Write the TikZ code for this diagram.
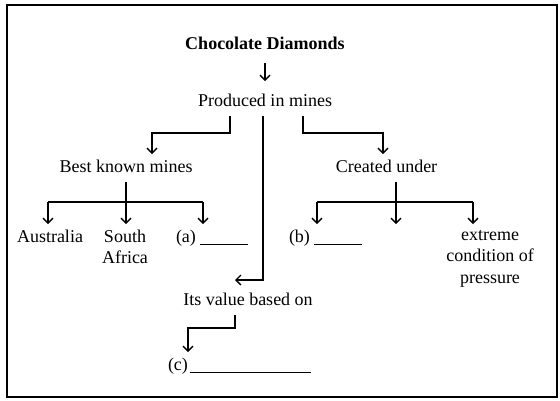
\documentclass[tikz,border=0pt]{standalone}
\usepackage{fontspec}
\setmainfont{Liberation Serif}
\usetikzlibrary{arrows.meta}
\newcommand{\blank}[1]{\rule[-2.5pt]{#1}{0.8pt}}
\tikzset{
	lbl/.style = {inner sep=0pt, outer sep=6pt},
	txt/.style = {lbl, text height=12pt, text depth=4pt, anchor=base},
	arr/.style = {-{Straight Barb[length=5pt, width=10pt]}}}

\begin{document}
\begin{tikzpicture}[x=1pt, y=-1pt, line width=1.3pt, font=\fontsize{18}{21.5}\selectfont]
\useasboundingbox (0,0) rectangle (560,400);
\draw [line width=1.8pt] (7,5) rectangle (557,397);

% NODES
\node (title) [txt] at (265,49) {\bfseries Chocolate Diamonds};
\node (prod) [txt] at (265,106) {Produced in mines};
% mines
\node (best) [txt] at (126,172) {Best known mines};
\node (aus) [txt] at (50,242) {Australia};
\node (saf) [lbl, align=center, anchor=north] at (125,224) {South\\Africa};
\node (bla) [txt, anchor=base west] at (170,242) {(a)\hspace{4pt}\blank{48pt}};
% created under
\node (created) [txt] at (386.5,172) {Created under};
\node (blb) [txt, anchor=base west] at (283,242) {(b)\hspace{4pt}\blank{48pt}};
\node (ext) [lbl, align=center, anchor=north] at (490,224) {extreme\\condition of\\pressure};
% value
\node (value) [txt] at (248,305) {Its value based on};
\node (blc) [txt, anchor=base west] at (162,370) {(c)\hspace{2pt}\blank{121pt}};

% bends and bars
\coordinate (pl) at (152,133);
\coordinate (pr) at (383,133);
\coordinate (valin) at (235,280);
\coordinate (cv) at (188,328);
\coordinate (ba1) at (48,202);
\coordinate (ba2) at (126,202);
\coordinate (ba3) at (203,202);
\coordinate (cb1) at (317,202);
\coordinate (cb2) at (396,202);
\coordinate (cb3) at (473,202);

%CONNECTIONS
\draw [arr, shorten <=4pt, shorten >=7pt] (title) -- (prod);
\draw [arr] ([xshift=-35pt]prod.south) |- (pl) -- (pl |- best.north);
\draw [arr] ([xshift=38pt]prod.south) |- (pr) -- (pr |- created.north);
\draw [arr] ([xshift=-2pt]prod.south) |- (valin);
\draw (best) -- (ba2);
\draw (ba1) -- (ba3);
\foreach \c/\n in {ba1/aus, ba2/saf, ba3/bla}
	\draw [arr] (\c) -- (\c |- \n.north);
\draw (created.south -| cb2) -- (cb2);
\draw (cb1) -- (cb3);
\foreach \c/\n in {cb1/blb, cb2/blb, cb3/ext}
	\draw [arr] (\c) -- (\c |- \n.north);
\draw [arr] ([xshift=-13pt]value.south) |- (cv) -- (cv |- blc.north);

\end{tikzpicture}
\end{document}
